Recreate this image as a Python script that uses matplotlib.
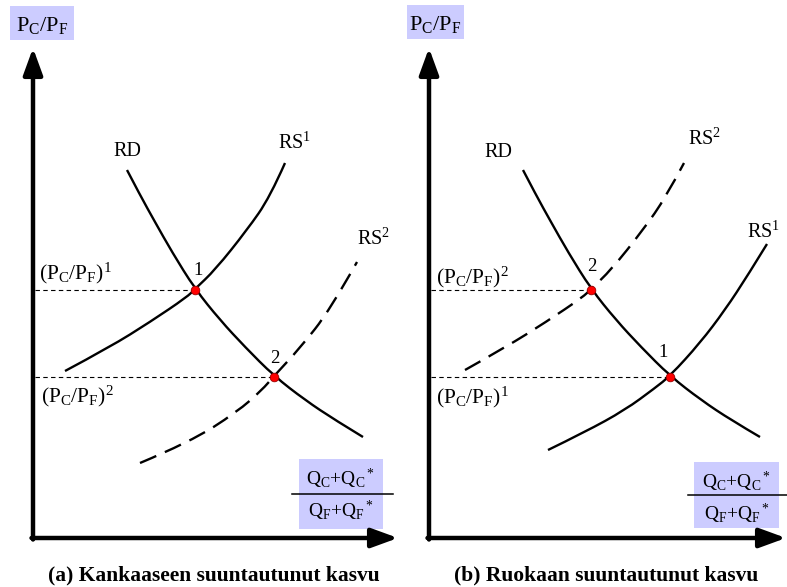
import matplotlib
matplotlib.use("Agg")
import matplotlib.pyplot as plt
from matplotlib.patches import Rectangle, PathPatch
from matplotlib.path import Path

plt.rcParams["font.family"] = ["Liberation Serif", "DejaVu Serif"]
plt.rcParams["mathtext.fontset"] = "custom"
plt.rcParams["mathtext.rm"] = "Liberation Serif"
plt.rcParams["mathtext.it"] = "Liberation Serif"

LAVENDER = "#ccccff"

# curve points (pixel coords, y grows downwards)
left_rd = [(127, 170), (140, 195), (155, 222), (172, 252), (195, 289), (220, 320),
           (245, 347), (274, 376), (305, 400), (335, 420), (363, 437)]
left_rs1 = [(65, 371), (110, 347), (150, 322), (187, 297), (195, 289), (215, 270),
            (247, 230), (270, 197), (285, 163)]
left_rs2 = [(140, 463), (190, 442), (237, 412), (262, 390), (274, 376), (300, 348),
            (330, 310), (357, 262)]

right_rd = [(523, 170), (536, 195), (551, 222), (568, 252), (591, 289), (616, 320),
            (641, 347), (670, 376), (701, 400), (731, 420), (760, 437)]
right_rs1 = [(548, 450), (585, 432), (625, 410), (655, 388), (670, 376), (700, 343),
             (725, 310), (748, 275), (767, 244)]
right_rs2 = [(465, 370), (506, 347), (546, 322), (583, 297), (591, 289), (611, 270),
             (643, 230), (666, 197), (684, 163)]

# equilibrium points and the price levels
left_eq = [(195, 290), (274, 377)]
right_eq = [(670, 377), (591, 290)]
eq_names = ["1", "2"]

panels = [
    dict(x0=33, tip_x=398, rd=left_rd, solid=left_rs1, dashed=left_rs2, eq=left_eq,
         eq_lab=[(198, 275), (275, 363)],
         curve_lab=[("RD", 127, 156), (r"$\mathrm{RS^1}$", 295, 149), (r"$\mathrm{RS^2}$", 374, 245)],
         price_lab=[(r"$\mathrm{(P_C/P_F)^1}$", 39, 279), (r"$\mathrm{(P_C/P_F)^2}$", 41, 402)],
         ybox=(10, 6, 64, 34), qbox=(299, 459, 84, 70), frac=(292, 393, 494),
         caption=("(a) Kankaaseen suuntautunut kasvu", 214)),
    dict(x0=429, tip_x=786, rd=right_rd, solid=right_rs1, dashed=right_rs2, eq=right_eq,
         eq_lab=[(663, 357), (592, 271)],
         curve_lab=[("RD", 498, 157), (r"$\mathrm{RS^2}$", 705, 145), (r"$\mathrm{RS^1}$", 764, 238)],
         price_lab=[(r"$\mathrm{(P_C/P_F)^1}$", 436, 403), (r"$\mathrm{(P_C/P_F)^2}$", 436, 283)],
         ybox=(407, 5, 57, 34), qbox=(694, 462, 85, 66), frac=(688, 787, 495),
         caption=("(b) Ruokaan suuntautunut kasvu", 606)),
]


def smooth_path(points):
    # quadratic spline: read points act as control points, midpoints as knots
    verts = [points[0]]
    codes = [Path.MOVETO]
    for i in range(1, len(points) - 1):
        a, b = points[i], points[i + 1]
        end = b if i == len(points) - 2 else ((a[0] + b[0]) / 2, (a[1] + b[1]) / 2)
        verts += [a, end]
        codes += [Path.CURVE3, Path.CURVE3]
    return Path(verts, codes)


def draw_curve(ax, points, dashed=False):
    ls = (0, (7.5, 4)) if dashed else "solid"
    ax.add_patch(PathPatch(smooth_path(points), facecolor="none", edgecolor="black",
                           lw=1.7, ls=ls, capstyle="butt", joinstyle="round"))


fig = plt.figure(figsize=(7.87, 5.87), dpi=100)
ax = fig.add_axes([0, 0, 1, 1])
ax.set_xlim(0, 787)
ax.set_ylim(587, 0)
ax.axis("off")

axis_y = 538
arrow = dict(arrowstyle="-|>,head_length=1.15,head_width=0.42", lw=3.2, color="black",
             shrinkA=0, shrinkB=0, mutation_scale=14)

for p in panels:
    x0 = p["x0"]
    ax.annotate("", xy=(x0, 48), xytext=(x0, axis_y + 1.5), arrowprops=arrow)
    ax.annotate("", xy=(p["tip_x"], axis_y), xytext=(x0 - 1.5, axis_y), arrowprops=arrow)

    bx, by, bw, bh = p["ybox"]
    ax.add_patch(Rectangle((bx, by), bw, bh, facecolor=LAVENDER, edgecolor="none"))
    ax.text(bx + bw / 2, by + 25, r"$\mathrm{P_C/P_F}$", fontsize=16,
            ha="center", va="baseline")

    # price level guides
    for ex, ey in p["eq"]:
        ax.plot([x0 + 2, ex], [ey, ey], color="black", lw=0.8, ls=(0, (4, 3)))

    draw_curve(ax, p["rd"])
    draw_curve(ax, p["solid"])
    draw_curve(ax, p["dashed"], dashed=True)

    ex, ey = zip(*p["eq"])
    ax.plot(ex, ey, "o", ms=6.2, mfc="#ff0000", mec="#990000", mew=0.6, zorder=5)
    for name, (lx, ly) in zip(eq_names, p["eq_lab"]):
        ax.text(lx, ly, name, fontsize=13.5, ha="center", va="baseline")

    for txt, lx, ly in p["curve_lab"]:
        ax.text(lx, ly, txt, fontsize=14.5, ha="center", va="baseline")

    for txt, lx, ly in p["price_lab"]:
        ax.text(lx, ly, txt, fontsize=15.5, ha="left", va="baseline")

    qx, qy, qw, qh = p["qbox"]
    ax.add_patch(Rectangle((qx, qy), qw, qh, facecolor=LAVENDER, edgecolor="none"))
    fx1, fx2, fy = p["frac"]
    ax.plot([fx1, fx2], [fy, fy], color="black", lw=1.1)
    ax.text(qx + qw / 2, qy + 26, r"$\mathrm{Q_C{+}Q_C{}^*}$", fontsize=14,
            ha="center", va="baseline")
    ax.text(qx + qw / 2, qy + 58, r"$\mathrm{Q_F{+}Q_F{}^*}$", fontsize=14,
            ha="center", va="baseline")

    cap, cx = p["caption"]
    ax.text(cx, 575, cap, fontsize=15.5, fontweight="bold", ha="center", va="center")

fig.savefig("out.png", dpi=100)
